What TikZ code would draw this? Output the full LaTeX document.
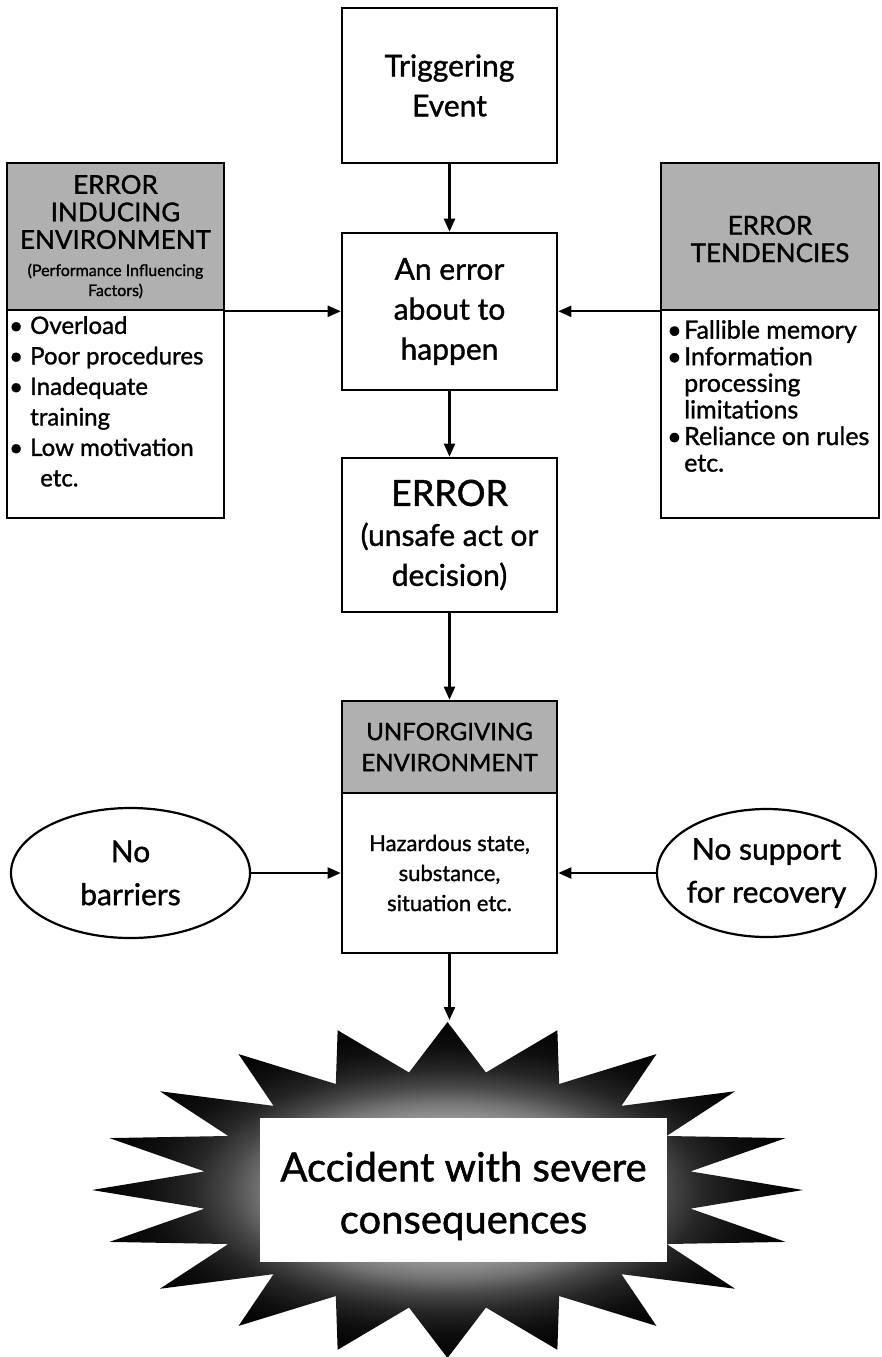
\documentclass[tikz,border=0pt]{standalone}
\usepackage{fontspec}
\setmainfont{Lato}[FakeBold=1.2]
\usetikzlibrary{arrows.meta,shapes.geometric}
\definecolor{hdr}{RGB}{176,176,176}
\pgfdeclareradialshading{burst}{\pgfpoint{0bp}{0bp}}{rgb(0bp)=(.68,.68,.68); rgb(10bp)=(.62,.62,.62); rgb(13bp)=(.46,.46,.46); rgb(15.5bp)=(.28,.28,.28); rgb(18bp)=(.15,.15,.15); rgb(21bp)=(.06,.06,.06); rgb(25bp)=(0,0,0); rgb(50bp)=(0,0,0)}
\begin{document}
\begin{tikzpicture}[x=1pt,y=-1pt,
  box/.style={draw, line width=2.6pt, inner sep=0pt, align=center, minimum width=215pt},
  hbox/.style={box, fill=hdr},
  arr/.style={line width=2.2pt, -{Triangle[length=13pt,width=11pt]}},
  mainfont/.style={font=\fontsize{30}{40}\selectfont},
  hfont/.style={font=\fontsize{26}{27.5}\selectfont},
  oval/.style={draw, ellipse, line width=2.2pt, inner sep=0pt},
  ovaltext/.style={align=center, inner sep=0pt, font=\fontsize{30}{43}\selectfont},
  listtext/.style={anchor=north west, align=left, inner sep=0pt}]
\useasboundingbox (0,0) rectangle (881,1357);
\fill[white] (0,0) rectangle (881,1357);

% central column
\node[box, mainfont, minimum height=155pt] (trig) at (449.5,85.5) {Triggering\\Event};
\node[box, mainfont, minimum height=157pt] (pre) at (449.5,311.5) {An error\\about to\\happen};
\node[box, mainfont, minimum height=154pt] (err) at (449.5,535) {{\fontsize{36}{40}\selectfont ERROR}\\(unsafe act or\\decision)};

% left box
\node[hbox, minimum width=217pt, minimum height=147pt] (lh) at (115.5,236.5) {};
\node[box, minimum width=217pt, minimum height=208pt] (lb) at (115.5,414) {};
\node[hfont, align=center, inner sep=0pt] (lht) at (115.5,212) {ERROR\\INDUCING\\ENVIRONMENT};
\node[font=\fontsize{16}{20}\selectfont, align=center, inner sep=0pt] (lhs) at (115.5,281) {(Performance Influencing\\Factors)};
\node[listtext, font=\fontsize{24}{30.5}\selectfont] (lbt) at (9,316)
  {\makebox[21pt][l]{\textbullet}Overload\\
   \makebox[21pt][l]{\textbullet}Poor procedures\\
   \makebox[21pt][l]{\textbullet}Inadequate\\
   \hspace*{21pt}training\\
   \makebox[21pt][l]{\textbullet}Low motivation\\
   \hspace*{31pt}etc.};

% right box
\node[hbox, minimum width=218pt, minimum height=147pt] (rh) at (770,236.5) {};
\node[hfont, align=center, inner sep=0pt] (rht) at (770,239) {ERROR\\TENDENCIES};
\node[box, minimum width=218pt, minimum height=208pt] (rb) at (770,414) {};
\node[listtext, font=\fontsize{25}{26.6}\selectfont] (rbt) at (667,320)
  {\makebox[17pt][l]{\textbullet}Fallible memory\\
   \makebox[17pt][l]{\textbullet}Information\\
   \hspace*{17pt}processing\\
   \hspace*{17pt}limitations\\
   \makebox[17pt][l]{\textbullet}Reliance on rules\\
   \hspace*{17pt}etc.};

% unforgiving environment
\node[hbox, font=\fontsize{24}{31}\selectfont, minimum height=92pt] (uh) at (449.5,747) {UNFORGIVING\\ENVIRONMENT};
\node[box, font=\fontsize{22}{30}\selectfont, minimum height=160pt] (ub) at (449.5,873) {Hazardous state,\\substance,\\situation etc.};

% ovals
\node[oval, minimum width=239pt, minimum height=130pt] (nob) at (130.5,873) {};
\node[ovaltext] (nobt) at (nob) {No\\barriers};
\node[oval, minimum width=219pt, minimum height=128pt] (nos) at (766.5,873) {};
\node[ovaltext] (nost) at (nos) {No support\\for recovery};

% starburst
\shade[shading=burst] (803,1190)
  \foreach \i in {0,...,19} {
    -- ({447.5+246*cos(\i*18+9)},{1190-119*sin(\i*18+9)})
    -- ({447.5+355.5*cos(\i*18+18)},{1190-168*sin(\i*18+18)})
  } -- cycle;
\coordinate (btop) at (449.5,1020);
\node[fill=white, inner sep=0pt, minimum width=407pt, minimum height=144pt] (acc) at (463.5,1190) {};
\node[align=center, inner sep=0pt, font=\fontsize{40}{52}\selectfont] (acct) at (463.5,1196) {Accident with severe\\consequences};

% connectors
\draw[arr] (trig) -- (pre);
\draw[arr] (pre) -- (err);
\draw[arr] (err) -- (uh);
\draw[arr] (lh.south east) -- (lh.south east -| pre.west);
\draw[arr] (rh.south west) -- (rh.south west -| pre.east);
\draw[arr] (nob.east) -- (nob.east -| ub.west);
\draw[arr] (nos.west) -- (nos.west -| ub.east);
\draw[arr] (ub.south) -- (btop);
\end{tikzpicture}
\end{document}
